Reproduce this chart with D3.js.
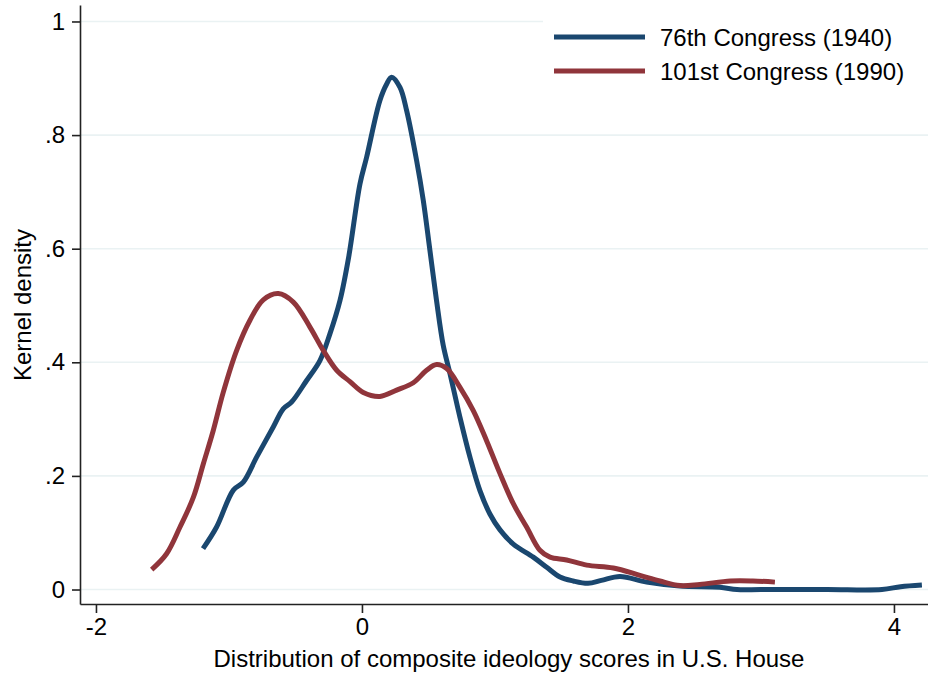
<!DOCTYPE html>
<html>
<head>
<meta charset="utf-8">
<script src="https://cdn.jsdelivr.net/npm/d3@7"></script>
<style>
  html, body { margin: 0; padding: 0; background: #fff; }
  svg { display: block; font-family: "Liberation Sans", Arial, Helvetica, sans-serif; }
</style>
</head>
<body>
<svg id="chart" width="928" height="673"></svg>
<script>
// Kernel density estimates of composite ideology scores, U.S. House
const seriesNames = ["76th Congress (1940)", "101st Congress (1990)"];
const seriesColors = ["#1a476f", "#90353b"];

const score1940 = [-1.195, -1.093, -0.967, -0.892, -0.792, -0.667, -0.592, -0.529, -0.416, -0.316,
  -0.241, -0.165, -0.1, -0.015, 0.035, 0.135, 0.186, 0.223, 0.286, 0.336, 0.411,
  0.461, 0.511, 0.56, 0.611, 0.662, 0.737, 0.812, 0.887, 0.962, 1.038, 1.138, 1.288, 1.389, 1.489,
  1.589, 1.70, 1.80, 1.94, 2.14, 2.39, 2.69, 2.82, 3.0, 3.5, 3.91, 4.05, 4.21];
const density1940 = [0.072, 0.11, 0.175, 0.189, 0.233, 0.286, 0.318, 0.33, 0.368, 0.403,
  0.45, 0.509, 0.585, 0.714, 0.761, 0.861, 0.890, 0.902, 0.884, 0.843, 0.755,
  0.685, 0.597, 0.51, 0.43, 0.38, 0.303, 0.233, 0.174, 0.133, 0.105, 0.080, 0.057, 0.039, 0.022,
  0.015, 0.011, 0.016, 0.023, 0.013, 0.006, 0.004, 0.0, 0.0, 0.0, 0.0, 0.005, 0.008];

const score1990 = [-1.581, -1.469, -1.368, -1.268, -1.193, -1.118, -1.043, -0.942, -0.842, -0.742,
  -0.629, -0.516, -0.391, -0.291, -0.19, -0.09, 0.01, 0.135, 0.261, 0.386, 0.486, 0.561, 0.637,
  0.737, 0.837, 0.937, 1.038, 1.138, 1.238, 1.338, 1.414, 1.539, 1.69, 1.89, 2.09, 2.24, 2.39,
  2.54, 2.77, 2.94, 3.105];
const density1990 = [0.035, 0.063, 0.11, 0.162, 0.221, 0.28, 0.347, 0.421, 0.474, 0.51,
  0.521, 0.506, 0.462, 0.421, 0.386, 0.366, 0.347, 0.340, 0.351, 0.364, 0.386, 0.396, 0.389,
  0.356, 0.315, 0.262, 0.204, 0.151, 0.11, 0.069, 0.057, 0.052, 0.043, 0.038, 0.025, 0.015, 0.007,
  0.009, 0.015, 0.015, 0.013];

const xTicks = [-2, 0, 2, 4];
const xTickLabels = ["-2", "0", "2", "4"];
const yTicks = [0, 0.2, 0.4, 0.6, 0.8, 1];
const yTickLabels = ["0", ".2", ".4", ".6", ".8", "1"];

const xTitle = "Distribution of composite ideology scores in U.S. House";
const yTitle = "Kernel density";

const svg = d3.select("#chart");
const W = 928, H = 673;
const plotLeft = 80, plotRight = 928, plotTop = 5, plotBottom = 604;

const x = d3.scaleLinear().domain([-2.12, 4.256]).range([plotLeft, plotRight]);
const y = d3.scaleLinear().domain([-0.0255, 1.029]).range([plotBottom, plotTop]);

// horizontal grid
svg.append("g")
  .selectAll("line")
  .data(yTicks)
  .join("line")
  .attr("x1", plotLeft + 1).attr("x2", plotRight)
  .attr("y1", d => y(d)).attr("y2", d => y(d))
  .attr("stroke", "#eaf2f3").attr("stroke-width", 1.6);

// density curves
const series = [
  { name: seriesNames[0], color: seriesColors[0], pts: score1940.map((s, i) => [s, density1940[i]]) },
  { name: seriesNames[1], color: seriesColors[1], pts: score1990.map((s, i) => [s, density1990[i]]) }
];
const line = d3.line().x(d => x(d[0])).y(d => y(d[1])).curve(d3.curveCatmullRom.alpha(0.5));

svg.append("g")
  .selectAll("path")
  .data(series)
  .join("path")
  .attr("d", d => line(d.pts))
  .attr("fill", "none")
  .attr("stroke", d => d.color)
  .attr("stroke-width", 5)
  .attr("stroke-linejoin", "round");

// y axis
const yAxis = d3.axisLeft(y).tickValues(yTicks)
  .tickFormat((d, i) => yTickLabels[i]).tickSize(8).tickPadding(7).tickSizeOuter(0);
const gy = svg.append("g").attr("transform", `translate(${plotLeft},0)`).call(yAxis);
gy.select(".domain").attr("stroke", "#222").attr("stroke-width", 1.6);
gy.selectAll(".tick line").attr("stroke", "#222").attr("stroke-width", 1.6);
gy.selectAll(".tick text").attr("font-size", 24).attr("fill", "#000")
  .attr("font-family", "'Liberation Sans', Arial, sans-serif");

// x axis
const xAxis = d3.axisBottom(x).tickValues(xTicks)
  .tickFormat((d, i) => xTickLabels[i]).tickSize(9).tickPadding(5).tickSizeOuter(0);
const gx = svg.append("g").attr("transform", `translate(0,${plotBottom})`).call(xAxis);
gx.select(".domain").attr("stroke", "#222").attr("stroke-width", 1.6);
gx.selectAll(".tick line").attr("stroke", "#222").attr("stroke-width", 1.6);
gx.selectAll(".tick text").attr("font-size", 24).attr("fill", "#000")
  .attr("font-family", "'Liberation Sans', Arial, sans-serif");

// axis titles
svg.append("text")
  .attr("x", (plotLeft + plotRight) / 2 + 5).attr("y", 667)
  .attr("text-anchor", "middle").attr("font-size", 24).attr("fill", "#000")
  .text(xTitle);
svg.append("text")
  .attr("transform", "translate(31,305) rotate(-90)")
  .attr("text-anchor", "middle").attr("font-size", 24).attr("fill", "#000")
  .text(yTitle);

// legend
const lg = svg.append("g");
lg.append("rect").attr("x", 543).attr("y", 4).attr("width", W - 543).attr("height", 86).attr("fill", "#fff");
const items = lg.selectAll("g.item").data(series).join("g")
  .attr("class", "item")
  .attr("transform", (d, i) => `translate(0,${37 + i * 34})`);
items.append("line")
  .attr("x1", 554).attr("x2", 645).attr("y1", 0).attr("y2", 0)
  .attr("stroke", d => d.color).attr("stroke-width", 5);
items.append("text")
  .attr("x", 660).attr("y", 9)
  .attr("font-size", 24).attr("fill", "#000")
  .text(d => d.name);
</script>
</body>
</html>
